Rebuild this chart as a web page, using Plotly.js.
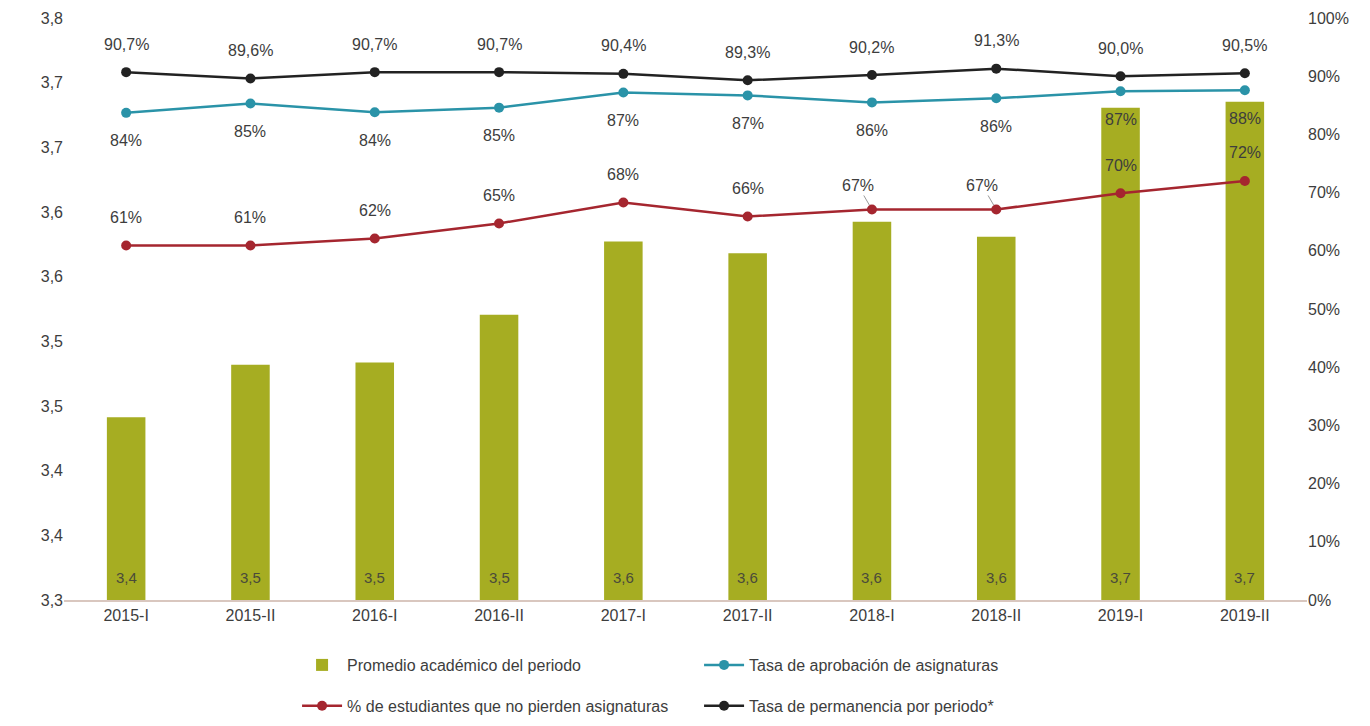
<!DOCTYPE html>
<html>
<head>
<meta charset="utf-8">
<script src="https://cdn.plot.ly/plotly-3.0.1.min.js"></script>
<style>html,body{margin:0;padding:0;background:#fff;}#chart{width:1370px;height:726px;}</style>
</head>
<body>
<div id="chart"></div>
<script>
const categories = ["2015-I","2015-II","2016-I","2016-II","2017-I","2017-II","2018-I","2018-II","2019-I","2019-II"];
const promedio = [3.457, 3.502, 3.504, 3.545, 3.608, 3.598, 3.625, 3.612, 3.723, 3.728];
const promedioLabels = ["3,4","3,5","3,5","3,5","3,6","3,6","3,6","3,6","3,7","3,7"];
const aprobacion = [83.7, 85.3, 83.8, 84.6, 87.2, 86.7, 85.5, 86.2, 87.4, 87.6];
const noPierden = [60.9, 60.9, 62.1, 64.7, 68.3, 65.9, 67.1, 67.1, 69.9, 72.0];
const permanencia = [90.7, 89.6, 90.7, 90.7, 90.4, 89.3, 90.2, 91.3, 90.0, 90.5];
const leftTickText = ["3,3","3,4","3,4","3,5","3,5","3,6","3,6","3,7","3,7","3,8"];
const rightTickVals = [0,10,20,30,40,50,60,70,80,90,100];
const rightTickText = ["0%","10%","20%","30%","40%","50%","60%","70%","80%","90%","100%"];

const FAM = 'Liberation Sans Narrow, Liberation Sans, DejaVu Sans, sans-serif';
const mkFont = (size, color) => ({family:FAM, size:size, color:color, stretch:'condensed'});
const TXT = '#3d3d3d';
const C_BAR = '#a6ad22', C_TEAL = '#2a93a8', C_RED = '#a5262f', C_BLACK = '#222222';

const leftTickVals = leftTickText.map((t, i) => 3.3 + i * 0.5 / 9);

const traces = [
  {type:'bar', x:categories, y:promedio, name:'Promedio académico del periodo',
   marker:{color:C_BAR}, yaxis:'y', legend:'legend', hoverinfo:'x+y'},
  {type:'scatter', mode:'lines+markers', x:categories, y:aprobacion, name:'Tasa de aprobación de asignaturas',
   yaxis:'y2', line:{color:C_TEAL, width:2.5}, marker:{color:C_TEAL, size:10}, legend:'legend'},
  {type:'scatter', mode:'lines+markers', x:categories, y:noPierden, name:'% de estudiantes que no pierden asignaturas',
   yaxis:'y2', line:{color:C_RED, width:2.5}, marker:{color:C_RED, size:10}, legend:'legend2'},
  {type:'scatter', mode:'lines+markers', x:categories, y:permanencia, name:'Tasa de permanencia por periodo*',
   yaxis:'y2', line:{color:C_BLACK, width:2.5}, marker:{color:C_BLACK, size:10}, legend:'legend2'}
];

const annotations = [];
const lblFont = mkFont(16, TXT);
categories.forEach((c, i) => {
  annotations.push({x:c, y:3.3, xref:'x', yref:'y', text:promedioLabels[i], showarrow:false,
    yanchor:'bottom', yshift:12, font:mkFont(15, '#4a4a3a')});
  annotations.push({x:c, y:permanencia[i], xref:'x', yref:'y2', text:permanencia[i].toFixed(1).replace('.', ',') + '%',
    showarrow:false, yshift:28, font:lblFont});
  annotations.push({x:c, y:aprobacion[i], xref:'x', yref:'y2', text:Math.round(aprobacion[i]) + '%',
    showarrow:false, yshift:-28, font:lblFont});
  if (c === '2018-I' || c === '2018-II') {
    annotations.push({x:c, y:noPierden[i], xref:'x', yref:'y2', text:Math.round(noPierden[i]) + '%',
      showarrow:true, arrowhead:0, arrowwidth:1, arrowcolor:'#999', ax:-14, ay:-24, standoff:5, font:lblFont});
  } else {
    annotations.push({x:c, y:noPierden[i], xref:'x', yref:'y2', text:Math.round(noPierden[i]) + '%',
      showarrow:false, yshift:28, font:lblFont});
  }
});

const layout = {
  width:1370, height:726,
  paper_bgcolor:'#ffffff', plot_bgcolor:'#ffffff',
  margin:{l:64, r:63, t:18, b:126, autoexpand:false},
  font:mkFont(16, TXT),
  bargap:0.69,
  showlegend:true,
  xaxis:{type:'category', range:[-0.5, 9.5], showgrid:false, zeroline:false, showline:true, linecolor:'#d9c7bf', linewidth:1.5,
    ticks:'', tickfont:mkFont(16, TXT)},
  yaxis:{range:[3.3, 3.8], tickvals:leftTickVals, ticktext:leftTickText, showgrid:false, zeroline:false,
    showline:false, ticks:'', tickfont:mkFont(16, TXT)},
  yaxis2:{range:[0, 100], overlaying:'y', side:'right', tickvals:rightTickVals, ticktext:rightTickText,
    showgrid:false, zeroline:false, showline:false, ticks:'', tickfont:mkFont(16, TXT)},
  legend:{orientation:'h', x:0.1875, xanchor:'left', y:-0.1117, yanchor:'middle', entrywidth:347, entrywidthmode:'pixels',
    itemwidth:40, font:mkFont(16, TXT), bgcolor:'rgba(0,0,0,0)', traceorder:'normal'},
  legend2:{orientation:'h', x:0.1875, xanchor:'left', y:-0.182, yanchor:'middle', entrywidth:347, entrywidthmode:'pixels',
    itemwidth:40, font:mkFont(16, TXT), bgcolor:'rgba(0,0,0,0)', traceorder:'normal'},
  annotations:annotations
};

Plotly.newPlot('chart', traces, layout, {displayModeBar:false, responsive:false});
</script>
</body>
</html>
